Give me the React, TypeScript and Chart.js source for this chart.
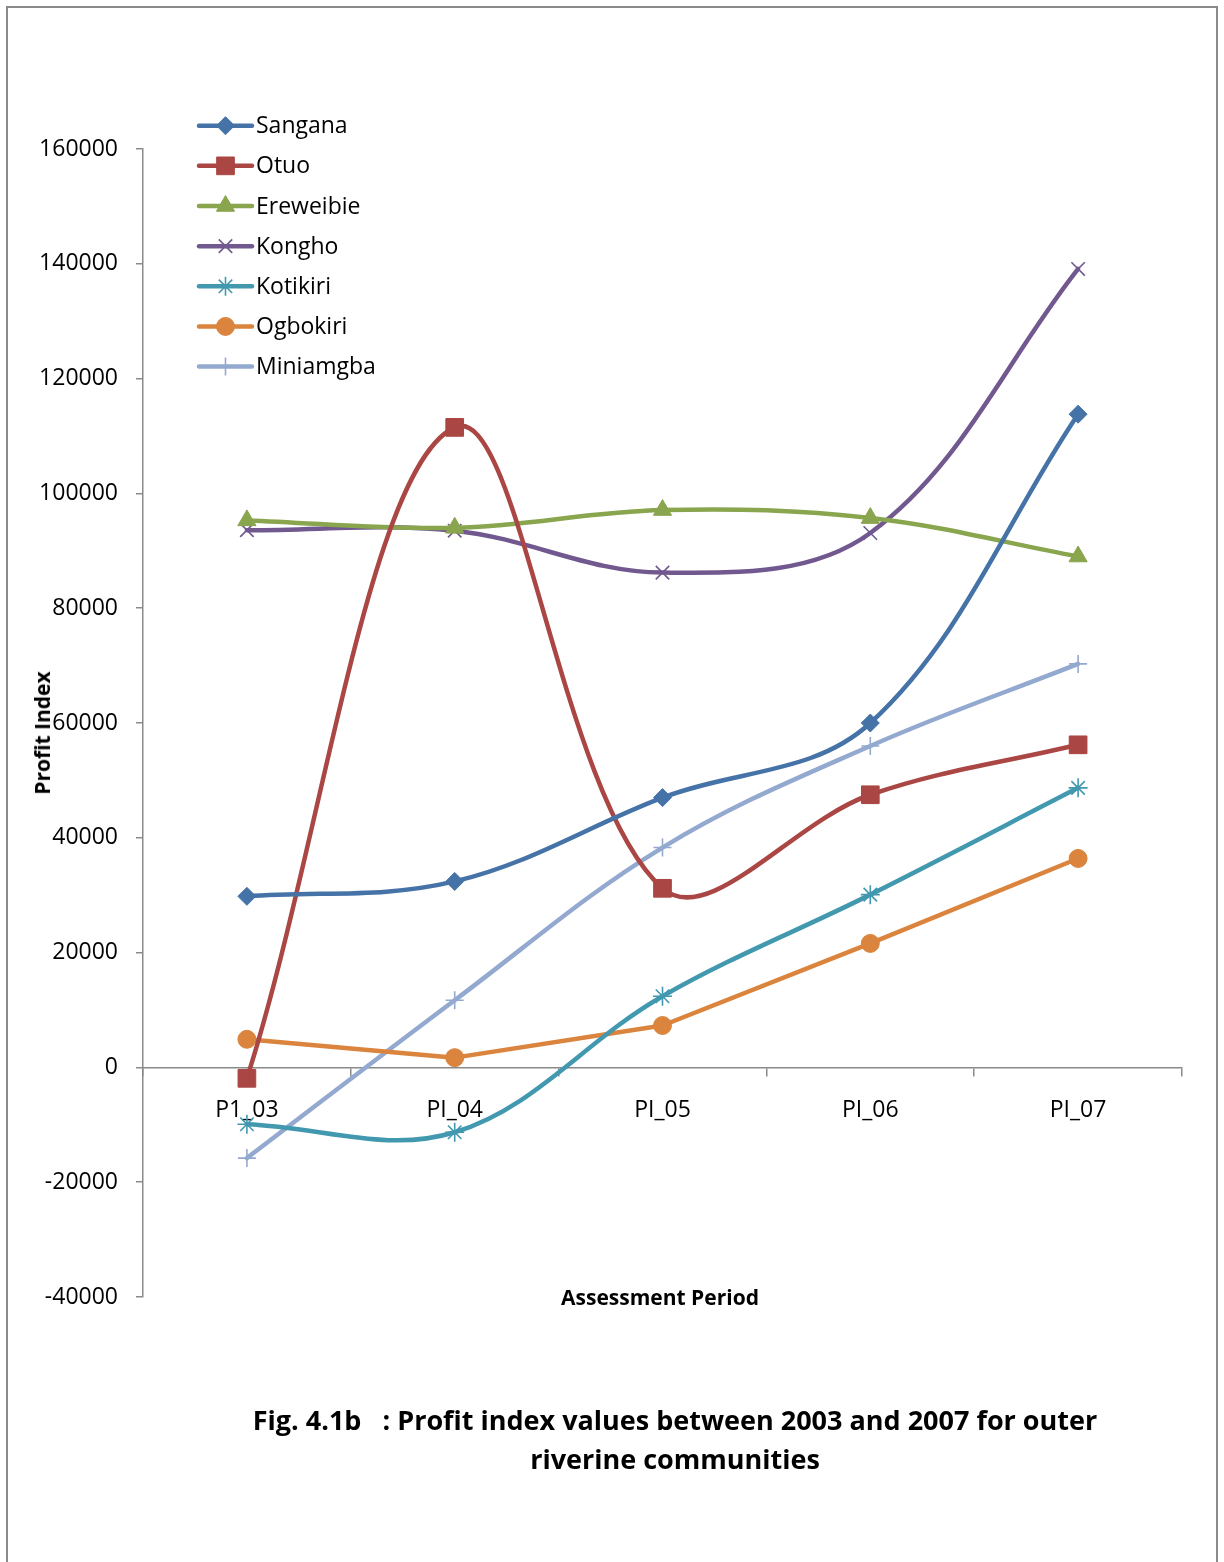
import React, { useEffect, useRef } from 'react';
import { Chart, registerables } from 'chart.js';
import { drawPoint } from 'chart.js/helpers';

Chart.register(...registerables);

// Assessment periods on the category axis
const periods = ['P1_03', 'PI_04', 'PI_05', 'PI_06', 'PI_07'];

// Profit index per community
const sangana = [29800, 32400, 47000, 60000, 113800];
const otuo = [-1900, 111500, 31200, 47500, 56200];
const ereweibie = [95300, 94000, 97100, 95700, 89000];
const kongho = [93600, 93500, 86200, 93100, 139100];
const kotikiri = [-9900, -11300, 12400, 30100, 48700];
const ogbokiri = [4900, 1700, 7300, 21600, 36400];
const miniamgba = [-15800, 11700, 38300, 56000, 70300];

// Value axis range
const yMin = -40000;
const yMax = 160000;
const yStep = 20000;

const communities = ['Sangana', 'Otuo', 'Ereweibie', 'Kongho', 'Kotikiri', 'Ogbokiri', 'Miniamgba'];
const seriesValues = [sangana, otuo, ereweibie, kongho, kotikiri, ogbokiri, miniamgba];
const lineColors = ['#4572A7', '#AA4643', '#89A54E', '#71588F', '#4198AF', '#DB843D', '#93A9CF'];
const markerStyles = ['rectRot', 'rect', 'triangle', 'crossRot', 'star', 'circle', 'cross'];
const markerRadii = [9, 12.5, 10.5, 9.5, 9.5, 9, 9];
const markerBorders = [1, 1, 1, 1.6, 1.6, 1, 1.6];
// Ogbokiri is drawn with straight segments, the rest are smoothed
const lineTension = [0.36, 0.36, 0.36, 0.36, 0.36, 0, 0.36];

const FONT = '"Open Sans", "Liberation Sans", sans-serif';
const AXIS_GREY = '#8a8a8a';

// Line-and-marker key drawn at the upper left of the plot
const legendKey = {
  id: 'legendKey',
  afterDraw(chart: any) {
    const ctx = chart.ctx as CanvasRenderingContext2D;
    const x0 = 199;
    const x1 = 252;
    const top = 125.7;
    const gap = 40.15;
    ctx.save();
    chart.data.datasets.forEach((ds: any, i: number) => {
      const y = top + i * gap;
      ctx.strokeStyle = ds.borderColor;
      ctx.lineWidth = 4.5;
      ctx.lineCap = 'round';
      ctx.beginPath();
      ctx.moveTo(x0, y);
      ctx.lineTo(x1, y);
      ctx.stroke();
      ctx.fillStyle = ds.pointBackgroundColor;
      ctx.strokeStyle = ds.pointBorderColor;
      ctx.lineWidth = ds.pointBorderWidth;
      ctx.lineCap = 'butt';
      drawPoint(
        ctx,
        { pointStyle: ds.pointStyle, rotation: 0, radius: ds.pointRadius, borderWidth: ds.pointBorderWidth } as any,
        (x0 + x1) / 2,
        y
      );
      ctx.fillStyle = '#000';
      ctx.font = `23px ${FONT}`;
      ctx.textAlign = 'left';
      ctx.textBaseline = 'middle';
      ctx.fillText(ds.label, 256, y + 1);
    });
    ctx.restore();
  },
};

export default function App() {
  const canvasRef = useRef<HTMLCanvasElement>(null);

  useEffect(() => {
    const canvas = canvasRef.current;
    if (!canvas) return;
    const datasets = communities.map((name, i) => ({
      label: name,
      data: seriesValues[i],
      borderColor: lineColors[i],
      backgroundColor: lineColors[i],
      borderWidth: 4.5,
      borderCapStyle: 'round' as const,
      borderJoinStyle: 'round' as const,
      tension: lineTension[i],
      fill: false,
      pointStyle: markerStyles[i],
      pointRadius: markerRadii[i],
      pointHoverRadius: markerRadii[i],
      pointBackgroundColor: lineColors[i],
      pointBorderColor: lineColors[i],
      pointBorderWidth: markerBorders[i],
    }));

    const chart = new Chart(canvas, {
      type: 'line',
      data: { labels: periods, datasets },
      plugins: [legendKey],
      options: {
        responsive: false,
        animation: false,
        devicePixelRatio: 1,
        layout: { padding: { top: 149, bottom: 265, left: 0, right: 42 } },
        plugins: {
          legend: { display: false },
          tooltip: { enabled: false },
        },
        scales: {
          x: {
            type: 'category',
            position: { y: 0 } as any,
            offset: true,
            grid: {
              display: true,
              drawOnChartArea: false,
              drawTicks: true,
              tickLength: 8,
              color: AXIS_GREY,
              lineWidth: 1.5,
              offset: true,
            },
            border: { display: true, color: AXIS_GREY, width: 1.5 },
            ticks: {
              color: '#000',
              font: { family: FONT, size: 23 },
              padding: 21,
              maxRotation: 0,
              autoSkip: false,
            },
          },
          y: {
            min: yMin,
            max: yMax,
            afterFit: (scale: any) => {
              scale.width = 143;
            },
            grid: {
              display: true,
              drawOnChartArea: false,
              drawTicks: true,
              tickLength: 7,
              color: AXIS_GREY,
              lineWidth: 1.5,
            },
            border: { display: true, color: AXIS_GREY, width: 1.5 },
            ticks: {
              stepSize: yStep,
              color: '#000',
              font: { family: FONT, size: 23 },
              padding: 18,
              callback: (v: any) => String(v),
            },
          },
        },
      },
    });
    return () => chart.destroy();
  }, []);

  return (
    <div
      style={{
        position: 'absolute',
        left: 0,
        top: 0,
        width: 1224,
        height: 1562,
        overflow: 'hidden',
        background: '#fff',
      }}
    >
      <div
        style={{
          position: 'absolute',
          left: 6,
          top: 6,
          width: 1212,
          height: 1620,
          border: `2px solid ${AXIS_GREY}`,
          boxSizing: 'border-box',
        }}
      />
      <canvas
        ref={canvasRef}
        width={1224}
        height={1562}
        style={{ position: 'absolute', left: 0, top: 0, width: 1224, height: 1562 }}
      />
      <div
        style={{
          position: 'absolute',
          left: 42,
          top: 733,
          transform: 'translate(-50%, -50%) rotate(-90deg)',
          whiteSpace: 'nowrap',
          fontFamily: FONT,
          fontWeight: 700,
          fontSize: 21,
          color: '#000',
        }}
      >
        Profit Index
      </div>
      <div
        style={{
          position: 'absolute',
          left: 660,
          top: 1297,
          transform: 'translate(-50%, -50%)',
          whiteSpace: 'nowrap',
          fontFamily: FONT,
          fontWeight: 700,
          fontSize: 21,
          color: '#000',
        }}
      >
        Assessment Period
      </div>
      <div
        style={{
          position: 'absolute',
          left: 175,
          width: 1000,
          top: 1400,
          textAlign: 'center',
          whiteSpace: 'pre',
          fontFamily: FONT,
          fontWeight: 700,
          fontSize: 27,
          lineHeight: '39px',
          color: '#000',
        }}
      >
        {'Fig. 4.1b   : Profit index values between 2003 and 2007 for outer\nriverine communities'}
      </div>
    </div>
  );
}
